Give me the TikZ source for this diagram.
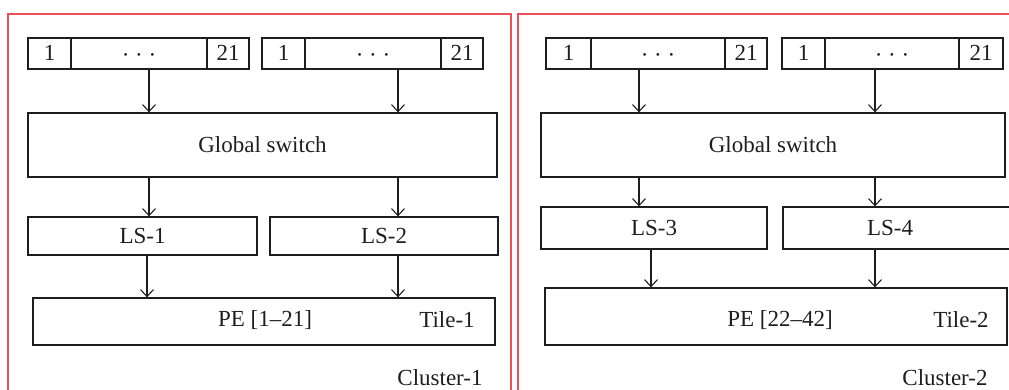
\documentclass[tikz,border=0pt]{standalone}
\usepackage{fontspec}
\setmainfont{Liberation Serif}
\usetikzlibrary{arrows.meta}
\definecolor{clred}{RGB}{238,78,88}
\definecolor{ink}{RGB}{30,30,30}
\tikzset{
  every node/.style={font=\fontsize{23}{27}\selectfont, text=ink},
  box/.style={draw=ink, line width=1.3pt, inner sep=0pt, anchor=center},
  cell/.style={box, minimum height=31pt, text height=15pt, text depth=0pt},
  arr/.style={draw=ink, line width=1.1pt, -{Straight Barb[length=7pt,width=13pt,line width=1.1pt]}},
  cluster/.style={draw=clred, line width=1.8pt},
  lbl/.style={inner sep=0pt, anchor=center}
}
\begin{document}
\begin{tikzpicture}[x=1pt,y=-1pt]
\useasboundingbox (0,0) rectangle (1009,390);
% cluster frames
\draw[cluster] (8,14) rectangle (511,400);
\draw[cluster] (518,14) rectangle (1030,400);
% ---------------- Cluster 1 ----------------
\node[cell, minimum width=43pt]  (a1) at (49.5,53.5) {1};
\node[cell, minimum width=136pt] (b1) at (139,53.5) {\raisebox{-2pt}{· · ·}};
\node[cell, minimum width=42pt]  (c1) at (228,53.5) {21};
\node[cell, minimum width=43pt]  (a2) at (283.5,53.5) {1};
\node[cell, minimum width=136pt] (b2) at (373,53.5) {\raisebox{-2pt}{· · ·}};
\node[cell, minimum width=42pt]  (c2) at (462,53.5) {21};
\node[box, minimum width=469pt, minimum height=64pt] (gs1) at (262.5,145) {Global switch};
\node[box, minimum width=229pt, minimum height=38pt] (ls1) at (142.5,236) {LS-1};
\node[box, minimum width=228pt, minimum height=38pt] (ls2) at (384,236) {LS-2};
\node[box, minimum width=462pt, minimum height=47pt] (pe1) at (264,321.5) {};
\node[lbl] (pet1) at (265,320) {PE [1–21]};
\node[lbl] (tile1) at (447,320) {Tile-1};
\node[lbl] (cl1) at (440,378) {Cluster-1};
\coordinate (x1) at (149,0);
\coordinate (x2) at (398,0);
\coordinate (x3) at (147,0);
\draw[arr] (b1.south -| x1) -- (gs1.north -| x1);
\draw[arr] (b2.south -| x2) -- (gs1.north -| x2);
\draw[arr] (gs1.south -| x1) -- (ls1.north -| x1);
\draw[arr] (gs1.south -| x2) -- (ls2.north -| x2);
\draw[arr] (ls1.south -| x3) -- (pe1.north -| x3);
\draw[arr] (ls2.south -| x2) -- (pe1.north -| x2);
% ---------------- Cluster 2 ----------------
\node[cell, minimum width=45pt]  (a3) at (568.5,53.5) {1};
\node[cell, minimum width=134pt] (b3) at (658,53.5) {\raisebox{-2pt}{· · ·}};
\node[cell, minimum width=42pt]  (c3) at (746,53.5) {21};
\node[cell, minimum width=43pt]  (a4) at (803.5,53.5) {1};
\node[cell, minimum width=134pt] (b4) at (892,53.5) {\raisebox{-2pt}{· · ·}};
\node[cell, minimum width=44pt]  (c4) at (981,53.5) {21};
\node[box, minimum width=464pt, minimum height=64pt] (gs2) at (773,145) {Global switch};
\node[box, minimum width=226pt, minimum height=42pt] (ls3) at (654,228) {LS-3};
\node[box, minimum width=229pt, minimum height=42pt] (ls4) at (897.5,228) {};
\node[lbl] (ls4t) at (890,228) {LS-4};
\node[box, minimum width=462pt, minimum height=57pt] (pe2) at (776,316.5) {};
\node[lbl] (pet2) at (780,320) {PE [22–42]};
\node[lbl] (tile2) at (961,320) {Tile-2};
\node[lbl] (cl2) at (945,378) {Cluster-2};
\coordinate (x4) at (639,0);
\coordinate (x5) at (875,0);
\coordinate (x6) at (651,0);
\draw[arr] (b3.south -| x4) -- (gs2.north -| x4);
\draw[arr] (b4.south -| x5) -- (gs2.north -| x5);
\draw[arr] (gs2.south -| x4) -- (ls3.north -| x4);
\draw[arr] (gs2.south -| x5) -- (ls4.north -| x5);
\draw[arr] (ls3.south -| x6) -- (pe2.north -| x6);
\draw[arr] (ls4.south -| x5) -- (pe2.north -| x5);
\end{tikzpicture}
\end{document}
